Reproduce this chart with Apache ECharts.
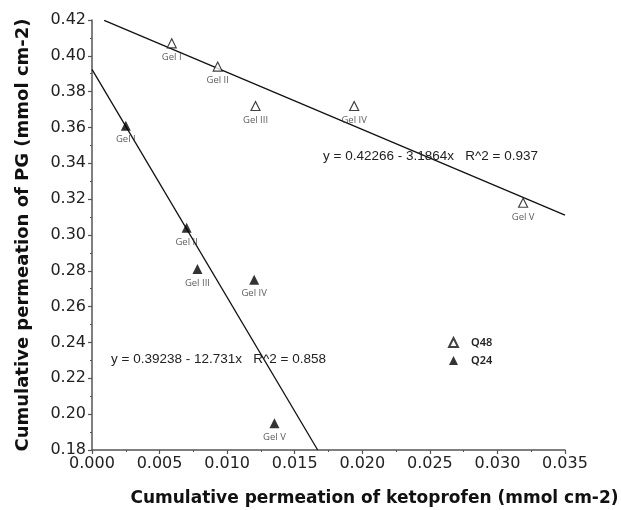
<!DOCTYPE html>
<html style="height: 100%">
<head>
<meta charset="utf-8">
<script src="https://cdn.jsdelivr.net/npm/echarts@6/dist/echarts.min.js"></script>
</head>
<body style="height: 100%; margin: 0; background: #fff">
<div id="container" style="width: 621px; height: 510px"></div>
<script type="text/javascript">
var gelNames = ['Gel I', 'Gel II', 'Gel III', 'Gel IV', 'Gel V'];
// Q48 (open triangles)
var q48X = [0.0059, 0.0093, 0.0121, 0.0194, 0.0319];
var q48Y = [0.407, 0.394, 0.372, 0.372, 0.318];
// Q24 (filled triangles)
var q24X = [0.0025, 0.0070, 0.0078, 0.0120, 0.0135];
var q24Y = [0.361, 0.304, 0.281, 0.275, 0.195];
// fit lines, end points
var q48Fit = [[0.0009, 0.4198], [0.035, 0.3111]];
var q24Fit = [[0.0, 0.3924], [0.0167, 0.18]];
var q48Eq = 'y = 0.42266 - 3.1864x   R^2 = 0.937';
var q24Eq = 'y = 0.39238 - 12.731x   R^2 = 0.858';

function pts(xs, ys) {
    var res = [];
    for (var i = 0; i < xs.length; i++) {
        res.push({ name: gelNames[i], value: [xs[i], ys[i]] });
    }
    return res;
}

var dom = document.getElementById('container');
var myChart = echarts.init(dom);
var axisColor = '#555';
var gelLabel = {
    show: true,
    position: 'bottom',
    distance: 4,
    formatter: '{b}',
    fontFamily: 'Open Sans',
    fontSize: 9.5,
    color: '#333'
};

var option = {
    animation: false,
    backgroundColor: '#fff',
    grid: { left: 92, right: 56, top: 20, bottom: 60, containLabel: false, outerBoundsMode: 'none' },
    legend: {
        orient: 'vertical',
        left: 443,
        top: 332,
        itemWidth: 9,
        itemHeight: 9,
        itemGap: 7,
        data: ['Q48', 'Q24'],
        textStyle: { fontFamily: 'Noto Sans', fontSize: 11, fontWeight: 600, color: '#222', padding: [0, 0, 0, 8] }
    },
    xAxis: {
        type: 'value',
        min: 0,
        max: 0.035,
        interval: 0.005,
        name: 'Cumulative permeation of ketoprofen (mmol cm-2)',
        nameLocation: 'middle',
        nameGap: 40,
        nameTextStyle: { fontFamily: 'DejaVu Sans', fontSize: 17, fontWeight: 'bold', color: '#111', padding: [0, 0, 0, 92] },
        axisLine: { lineStyle: { color: axisColor, width: 1.5 } },
        axisTick: { length: 4, lineStyle: { color: axisColor, width: 1.2 } },
        minorTick: { show: true, splitNumber: 2, length: 2, lineStyle: { color: axisColor } },
        splitLine: { show: false },
        axisLabel: {
            fontFamily: 'DejaVu Sans', fontSize: 16, color: '#222', margin: 6,
            formatter: function (v) { return v.toFixed(3); }
        }
    },
    yAxis: {
        type: 'value',
        min: 0.18,
        max: 0.42,
        interval: 0.02,
        name: 'Cumulative permeation of PG (mmol cm-2)',
        nameLocation: 'middle',
        nameGap: 60,
        nameTextStyle: { fontFamily: 'DejaVu Sans', fontSize: 18, fontWeight: 'bold', color: '#111' },
        axisLine: { show: true, lineStyle: { color: axisColor, width: 1.5 } },
        axisTick: { show: true, length: 4, lineStyle: { color: axisColor, width: 1.2 } },
        minorTick: { show: true, splitNumber: 2, length: 2, lineStyle: { color: axisColor } },
        splitLine: { show: false },
        axisLabel: {
            fontFamily: 'DejaVu Sans', fontSize: 16, color: '#222', margin: 6,
            formatter: function (v) { return v.toFixed(2); }
        }
    },
    graphic: [
        { type: 'text', left: 323, top: 149, style: { text: q48Eq, font: '13.5px "Liberation Sans"', fill: '#222' } },
        { type: 'text', left: 111, top: 352, style: { text: q24Eq, font: '13.5px "Liberation Sans"', fill: '#222' } }
    ],
    series: [
        {
            name: 'Q48fit', type: 'line', data: q48Fit, symbol: 'none', silent: true,
            lineStyle: { color: '#111', width: 1.3 }, z: 1
        },
        {
            name: 'Q24fit', type: 'line', data: q24Fit, symbol: 'none', silent: true,
            lineStyle: { color: '#111', width: 1.3 }, z: 1
        },
        {
            name: 'Q48', type: 'scatter', symbol: 'triangle', symbolSize: 9,
            data: pts(q48X, q48Y),
            itemStyle: { color: '#fff', borderColor: '#111', borderWidth: 1.2 },
            label: gelLabel, z: 3
        },
        {
            name: 'Q24', type: 'scatter', symbol: 'triangle', symbolSize: 10,
            data: pts(q24X, q24Y),
            itemStyle: { color: '#000' },
            label: gelLabel, z: 3
        }
    ]
};
myChart.setOption(option, true);
</script>
</body>
</html>
